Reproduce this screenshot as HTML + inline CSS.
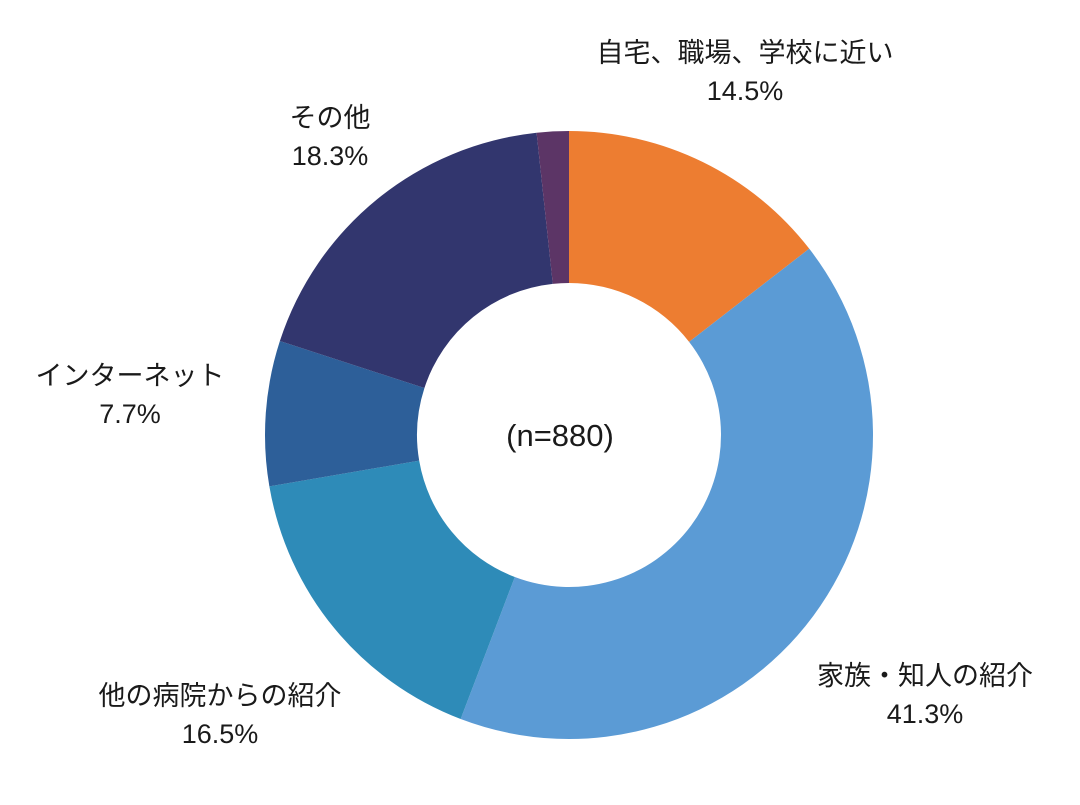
<!DOCTYPE html>
<html><head><meta charset="utf-8"><style>
body{margin:0;background:#fff;}
svg text{font-family:"Liberation Sans","Noto Sans CJK JP",sans-serif;fill:#1a1a1a;font-size:27px;}
</style></head><body>
<svg id="chart" width="1080" height="800" viewBox="0 0 1080 800">
<g id="slices"></g>
<text x="560" y="446" text-anchor="middle" font-size="30" style="font-size:31px">(n=880)</text>
<g id="labels"></g>
</svg>
<script>
const categories = ["自宅、職場、学校に近い","家族・知人の紹介","他の病院からの紹介","インターネット","その他",""];
const values = [14.5,41.3,16.5,7.7,18.3,1.7];
const colors = ["#ED7D31","#5B9BD5","#2E8BB8","#2D5F99","#32366E","#5C3566"];
const labelPos = [[745,62],[925,685],[220,705],[130,385],[330,127],null];
const cx=569, cy=435, R=304, r=152;
const NS="http://www.w3.org/2000/svg";
const total=values.reduce((a,b)=>a+b,0);
function pt(a,rad){return [cx+rad*Math.sin(a), cy-rad*Math.cos(a)];}
let acc=0;
const g=document.getElementById('slices'), lg=document.getElementById('labels');
values.forEach((v,i)=>{
  const a0=acc/total*2*Math.PI; acc+=v; const a1=acc/total*2*Math.PI;
  const large=(a1-a0)>Math.PI?1:0;
  const p0=pt(a0,R),p1=pt(a1,R),q1=pt(a1,r),q0=pt(a0,r);
  const p=document.createElementNS(NS,'path');
  p.setAttribute('d',`M${p0[0]},${p0[1]} A${R},${R} 0 ${large} 1 ${p1[0]},${p1[1]} L${q1[0]},${q1[1]} A${r},${r} 0 ${large} 0 ${q0[0]},${q0[1]} Z`);
  p.setAttribute('fill',colors[i]);
  
  
  g.appendChild(p);
  if(labelPos[i]){
    const t=document.createElementNS(NS,'text');
    t.setAttribute('x',labelPos[i][0]); t.setAttribute('y',labelPos[i][1]);
    t.setAttribute('text-anchor','middle');
    
    
    const s1=document.createElementNS(NS,'tspan'); s1.setAttribute('x',labelPos[i][0]); s1.textContent=categories[i];
    const s2=document.createElementNS(NS,'tspan'); s2.setAttribute('x',labelPos[i][0]); s2.setAttribute('dy','38'); s2.textContent=v.toFixed(1)+'%';
    t.appendChild(s1); t.appendChild(s2); lg.appendChild(t);
  }
});
</script>
</body></html>
